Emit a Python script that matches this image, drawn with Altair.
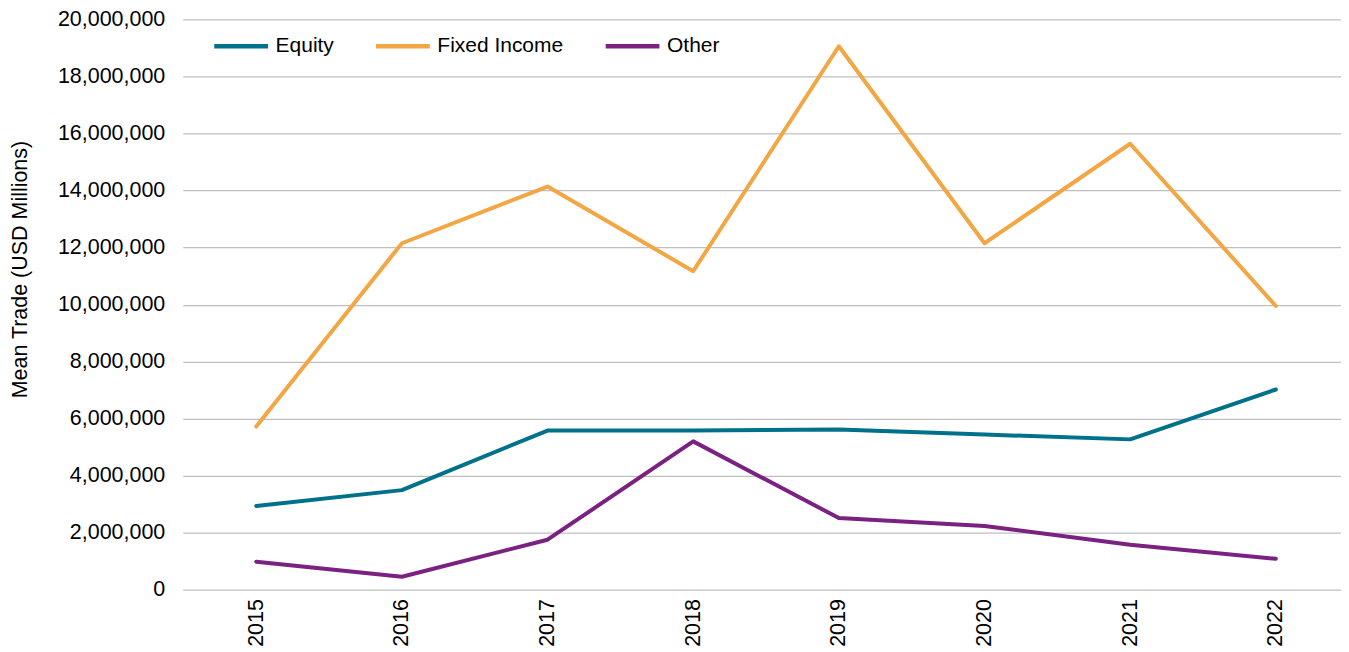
import altair as alt
import pandas as pd

years = ["2015", "2016", "2017", "2018", "2019", "2020", "2021", "2022"]
equity = [2930000, 3490000, 5580000, 5580000, 5620000, 5440000, 5270000, 7020000]
fixed_income = [5720000, 12150000, 14140000, 11170000, 19060000, 12150000, 15640000, 9950000]
other = [980000, 450000, 1750000, 5200000, 2510000, 2230000, 1570000, 1080000]

series_names = ["Equity", "Fixed Income", "Other"]
series_colors = ["#00718B", "#F2A644", "#7A2181"]

rows = []
for name, vals in zip(series_names, [equity, fixed_income, other]):
    for y, v in zip(years, vals):
        rows.append({"Year": y, "Series": name, "Value": v})
df = pd.DataFrame(rows)

FONT = "Liberation Sans"

chart = alt.Chart(df).mark_line(strokeWidth=4, strokeCap="round", strokeJoin="round").encode(
    x=alt.X("Year:O", sort=years, title=None,
            scale=alt.Scale(type="point", padding=0.476, align=0.53),
            axis=alt.Axis(labelAngle=-90, labelFontSize=21.5, labelFont=FONT, labelColor="#000000",
                          ticks=False, domain=False, grid=False, labelPadding=9)),
    y=alt.Y("Value:Q", title="Mean Trade (USD Millions)",
            scale=alt.Scale(domain=[0, 20000000], nice=False),
            axis=alt.Axis(values=list(range(0, 20000001, 2000000)), format=",.0f",
                          labelFontSize=21.5, labelFont=FONT, labelColor="#000000",
                          titleFontSize=21.5, titleFont=FONT, titleFontWeight="normal", titleColor="#000000",
                          titlePadding=26, labelPadding=18, ticks=False, domain=False, titleY=250,
                          grid=True, gridColor="#BFBFBF", gridWidth=1.3)),
    color=alt.Color("Series:N", sort=series_names,
                    scale=alt.Scale(domain=series_names, range=series_colors),
                    legend=alt.Legend(title=None, orient="none", direction="horizontal",
                                      legendX=29, legendY=-3,
                                      symbolType="stroke", symbolSize=2900, symbolStrokeWidth=4.5,
                                      labelFontSize=21, labelFont=FONT, labelColor="#000000",
                                      labelOffset=5, columnPadding=32, padding=0)),
).properties(
    width=1160, height=571,
    padding={"left": 1, "top": 0, "right": 0, "bottom": 0},
).configure_view(stroke=None)

chart.save("out.html", embed_options={"renderer": "svg", "actions": False})
